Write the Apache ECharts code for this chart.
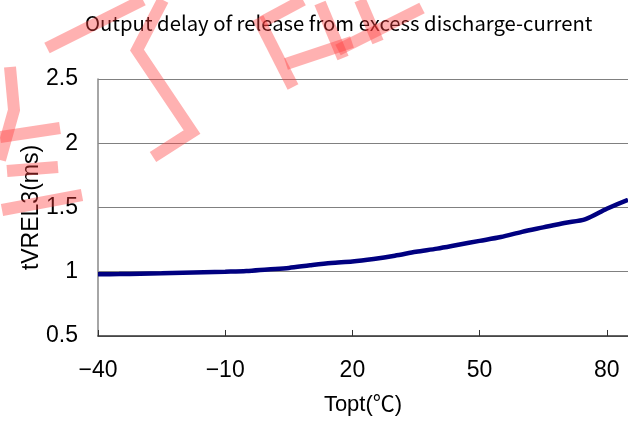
<!DOCTYPE html>
<html>
<head>
<meta charset="utf-8">
<script src="https://cdn.jsdelivr.net/npm/echarts@6/dist/echarts.min.js"></script>
<style>
  html, body { margin: 0; padding: 0; background: #fff; }
  #chart { width: 628px; height: 421px; }
</style>
</head>
<body>
<div id="chart"></div>
<script>
  // 温度 (℃) と 出力遅延 (ms)
  const temps = [-40, -35, -30, -25, -20, -15, -10, -5, 0, 5, 10, 15, 20, 25, 30, 35, 40, 45, 50, 55, 60, 65, 70, 75, 80, 85];
  const delay = [0.98, 0.982, 0.985, 0.988, 0.992, 0.996, 1.0, 1.005, 1.018, 1.03, 1.05, 1.068, 1.08, 1.1, 1.125, 1.155, 1.18, 1.21, 1.24, 1.27, 1.31, 1.345, 1.38, 1.41, 1.49, 1.56];
  const yTicks = [0.5, 1, 1.5, 2, 2.5];

  const FONT = '"Noto Sans CJK JP", "Noto Sans", sans-serif';
  const NUM_FONT = '"Liberation Sans Narrow", "Liberation Sans", sans-serif';
  const NAME_FONT = '"Liberation Sans", "Noto Sans CJK JP", sans-serif';
  const pink = 'rgba(255,60,60,0.4)';

  // watermark strokes
  const marks = [
    [[47, 48], [143, 0]],
    [[163, 0], [137, 50], [192, 132], [153, 157]],
    [[258, 18], [293, 87]],
    [[262, 22], [303, 0]],
    [[286, 64], [352, 42]],
    [[320, 3], [343, 58]],
    [[338, 50], [422, 8]],
    [[360, 0], [378, 42]],
    [[10, 67], [14, 110], [0, 160]],
    [[0, 137], [60, 128]],
    [[7, 171], [58, 167]],
    [[2, 210], [82, 195]]
  ];

  const chart = echarts.init(document.getElementById('chart'));
  chart.setOption({
    animation: false,
    title: {
      text: 'Output delay of release from excess discharge-current',
      left: 80,
      top: 8,
      textStyle: { fontFamily: FONT, fontSize: 20.3, fontWeight: 'normal', color: '#000' }
    },
    grid: { left: 98, top: 79, right: -3, bottom: 84 },
    xAxis: {
      type: 'value',
      min: -40,
      max: 85,
      interval: 30,
      name: 'Topt(℃)',
      nameLocation: 'middle',
      nameGap: 58,
      nameMoveOverlap: false,
      nameTextStyle: { fontFamily: NAME_FONT, fontSize: 22, color: '#000' },
      axisLine: { onZero: false, lineStyle: { color: '#333', width: 1.5 } },
      axisTick: { show: true, inside: true, length: 6, lineStyle: { color: '#333' } },
      splitLine: { show: false },
      axisLabel: {
        margin: 23,
        showMaxLabel: false,
        fontFamily: NUM_FONT, fontSize: 23, color: '#000',
        formatter: v => String(v).replace('-', '\u2212')
      }
    },
    yAxis: {
      type: 'value',
      min: yTicks[0],
      max: yTicks[yTicks.length - 1],
      interval: 0.5,
      name: 'tVREL3(ms)',
      nameLocation: 'middle',
      nameGap: 55,
      nameMoveOverlap: false,
      nameRotate: 90,
      nameTextStyle: { fontFamily: NAME_FONT, fontSize: 23, color: '#000' },
      axisLine: { show: true, onZero: false, lineStyle: { color: '#888', width: 1.5 } },
      axisTick: { show: false },
      splitLine: { lineStyle: { color: '#808080', width: 1 } },
      axisLabel: { margin: 20, fontFamily: NUM_FONT, fontSize: 23, color: '#000' }
    },
    series: [{
      type: 'line',
      data: temps.map((t, i) => [t, delay[i]]),
      showSymbol: false,
      smooth: 0.3,
      lineStyle: { color: '#000080', width: 4.5 }
    }],
    graphic: marks.map(p => ({
      type: 'polyline',
      z: 100,
      silent: true,
      shape: { points: p },
      style: { stroke: pink, lineWidth: 12, fill: null, lineJoin: 'miter' }
    }))
  });
</script>
</body>
</html>
